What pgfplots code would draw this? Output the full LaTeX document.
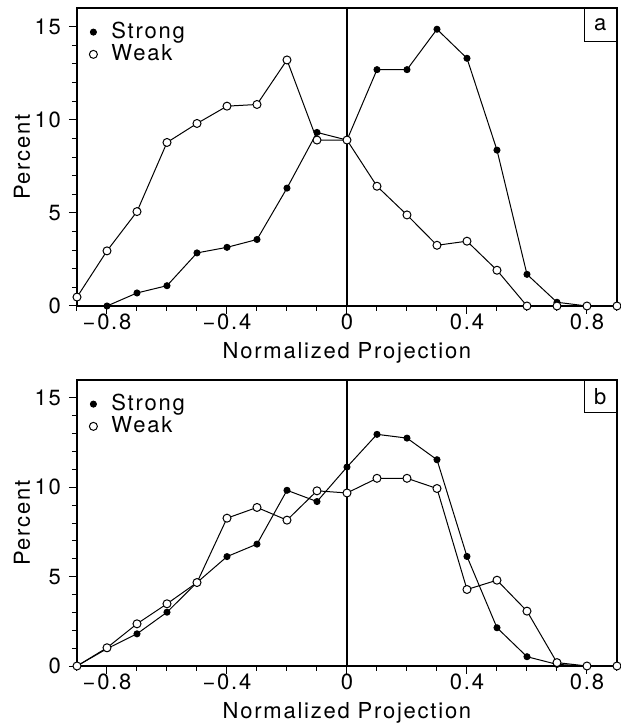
\documentclass[border=0pt]{standalone}
\usepackage{fontspec}
\setmainfont{TeX Gyre Heros}[LetterSpace=8]
\usepackage{pgfplots}
\usepackage{pgfplotstable}
\pgfplotsset{compat=1.18}

\pgfplotstableread{
x     strong  weak
-0.9  nan     0.48
-0.8  0.00    2.96
-0.7  0.70    5.07
-0.6  1.09    8.78
-0.5  2.85    9.80
-0.4  3.15    10.73
-0.3  3.57    10.82
-0.2  6.33    13.21
-0.1  9.32    8.91
 0.0  8.91    8.91
 0.1  12.69   6.43
 0.2  12.69   4.89
 0.3  14.86   3.26
 0.4  13.30   3.48
 0.5  8.37    1.92
 0.6  1.70    0.00
 0.7  0.20    0.00
 0.8  0.00    0.00
 0.9  0.00    0.00
}\dataA

\pgfplotstableread{
x     strong  weak
-0.9  0.00    0.00
-0.8  0.97    1.02
-0.7  1.80    2.36
-0.6  3.01    3.48
-0.5  4.67    4.67
-0.4  6.12    8.27
-0.3  6.82    8.87
-0.2  9.83    8.16
-0.1  9.20    9.80
 0.0  11.13   9.68
 0.1  12.96   10.50
 0.2  12.75   10.50
 0.3  11.54   9.93
 0.4  6.13    4.28
 0.5  2.14    4.80
 0.6  0.52    3.07
 0.7  0.09    0.19
 0.8  0.00    0.00
 0.9  0.00    0.00
}\dataB

\newcommand{\lblfont}{\fontsize{11}{13}\selectfont}

\pgfplotsset{
  myaxis/.style={
    scale only axis, width=270pt,
    xmin=-0.9, xmax=0.9, ymin=0, ymax=16,
    axis line style={line width=0.8pt},
    tick align=outside, tick pos=left,
    xtick={-0.8,-0.4,0,0.4,0.8},
    xticklabels={−0.8,−0.4,0,0.4,0.8},
    minor xtick={-0.9,-0.7,-0.6,-0.5,-0.3,-0.2,-0.1,0.1,0.2,0.3,0.5,0.6,0.7,0.9},
    ytick={0,5,10,15}, yticklabels={0,5,10,15},
    minor y tick num=4,
    major tick length=4pt, minor tick length=2.5pt,
    every tick/.style={black, line width=0.5pt},
    tick label style={font=\lblfont},
    xticklabel style={anchor=base, yshift=-8pt},
    yticklabel style={anchor=east, xshift=-0.5pt},
    xlabel={Normalized Projection}, ylabel={Percent},
    every axis x label/.style={at={(rel axis cs:0.5,0)}, yshift=-26.5pt, anchor=base, font=\lblfont},
    every axis y label/.style={at={(rel axis cs:0,0.5)}, xshift=-27.5pt, anchor=center, rotate=90, font=\lblfont},
    legend style={draw=none, fill=none, at={(rel axis cs:0,1)}, anchor=north west,
      font=\lblfont, row sep=-2.5pt, inner xsep=0pt, inner ysep=5pt},
    legend cell align=left,
    clip=false,
  },
  strongstyle/.style={black, line width=0.5pt, mark=*, mark size=1.5pt,
    legend image code/.code={\path[draw=none] (0pt,0pt) -- (15pt,0pt); \draw plot coordinates {(8pt,0pt)};}},
  weakstyle/.style={black, line width=0.5pt, mark=*, mark size=2pt, mark options={fill=white},
    legend image code/.code={\path[draw=none] (0pt,0pt) -- (15pt,0pt); \draw plot coordinates {(8pt,0pt)};}},
}

\begin{document}
\begin{tikzpicture}
\useasboundingbox (0,0) rectangle (310.5pt,362.5pt);

\begin{axis}[myaxis, height=149pt, at={(38.5pt,209.5pt)}, anchor=south west]
\addplot[black, line width=0.7pt, forget plot] coordinates {(0,0) (0,16)};
\addplot[strongstyle] table[x=x,y=strong] {\dataA};
\addlegendentry{Strong}
\addplot[weakstyle] table[x=x,y=weak] {\dataA};
\addlegendentry{Weak}
\node[draw, line width=0.7pt, anchor=north east, minimum width=16pt, minimum height=16.5pt, inner sep=0pt, font=\lblfont] at (rel axis cs:1,1) {a};
\end{axis}

\begin{axis}[myaxis, height=143pt, at={(38.5pt,29.5pt)}, anchor=south west]
\addplot[black, line width=0.7pt, forget plot] coordinates {(0,0) (0,16)};
\addplot[strongstyle] table[x=x,y=strong] {\dataB};
\addlegendentry{Strong}
\addplot[weakstyle] table[x=x,y=weak] {\dataB};
\addlegendentry{Weak}
\node[draw, line width=0.7pt, anchor=north east, minimum width=16pt, minimum height=16pt, inner sep=0pt, font=\lblfont] at (rel axis cs:1,1) {b};
\end{axis}
\end{tikzpicture}
\end{document}
